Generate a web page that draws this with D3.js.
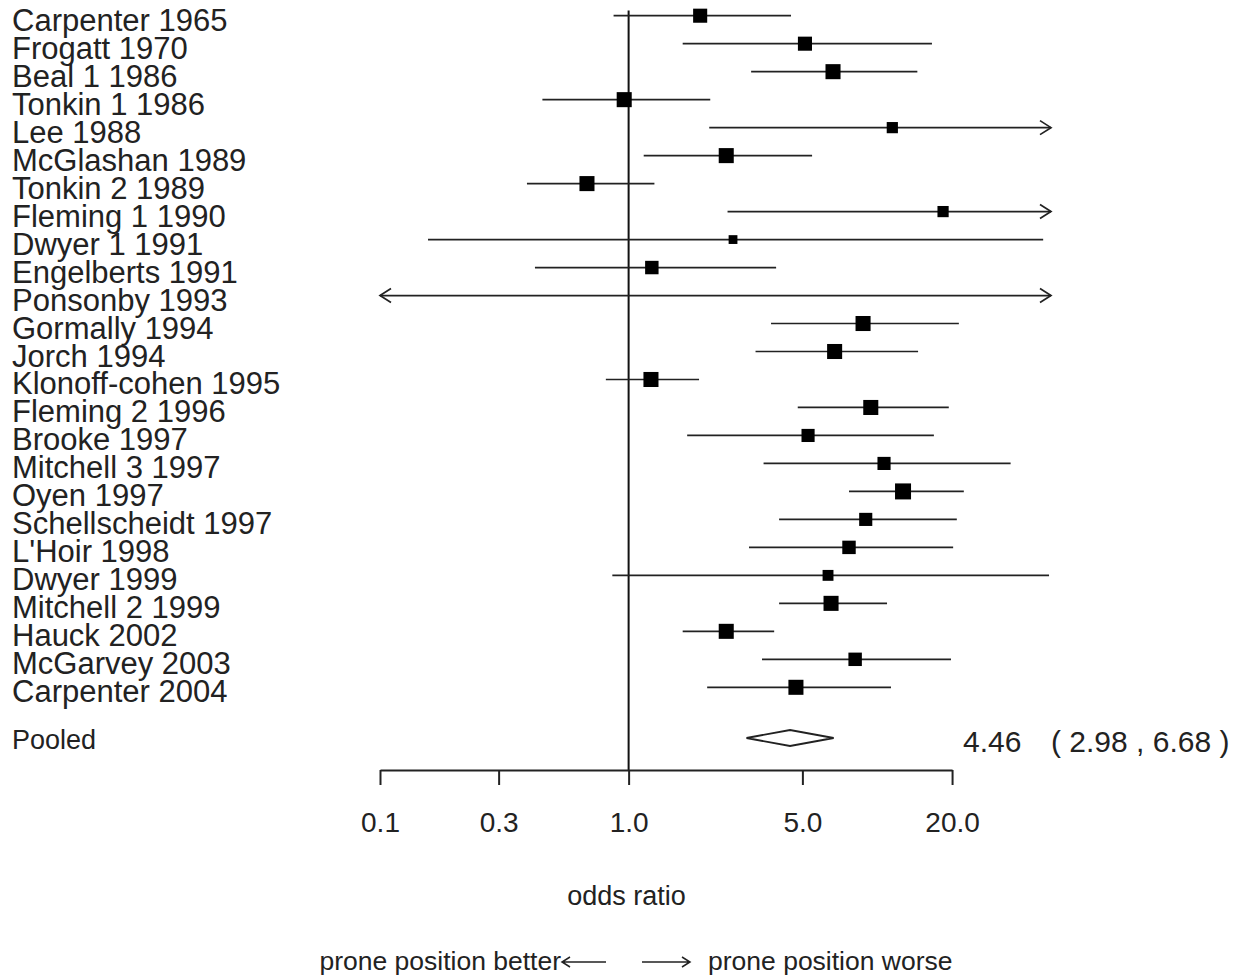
<!DOCTYPE html>
<html>
<head>
<meta charset="utf-8">
<script src="https://cdn.jsdelivr.net/npm/d3@7"></script>
<style>
  body { margin: 0; background: #fff; }
  text { font-family: "Liberation Sans", Arial, sans-serif; fill: #222; }
</style>
</head>
<body>
<div class="forest"></div>
<script>
// studies, top to bottom
const studies = ["Carpenter 1965", "Frogatt 1970", "Beal 1 1986", "Tonkin 1 1986", "Lee 1988",
  "McGlashan 1989", "Tonkin 2 1989", "Fleming 1 1990", "Dwyer 1 1991", "Engelberts 1991",
  "Ponsonby 1993", "Gormally 1994", "Jorch 1994", "Klonoff-cohen 1995", "Fleming 2 1996",
  "Brooke 1997", "Mitchell 3 1997", "Oyen 1997", "Schellscheidt 1997", "L'Hoir 1998",
  "Dwyer 1999", "Mitchell 2 1999", "Hauck 2002", "McGarvey 2003", "Carpenter 2004"]
const oddsRatio = [1.94, 5.12, 6.64, 0.96, 11.5, 2.47, 0.68, 18.4, 2.63, 1.24,
  null, 8.77, 6.74, 1.23, 9.42, 5.27, 10.65, 12.7, 8.99, 7.70,
  6.34, 6.52, 2.47, 8.15, 4.71]
const lower = [0.87, 1.65, 3.11, 0.45, 2.11, 1.15, 0.39, 2.50, 0.156, 0.42,
  0.07, 3.74, 3.24, 0.81, 4.79, 1.72, 3.49, 7.70, 4.03, 3.05,
  0.86, 4.03, 1.65, 3.44, 2.07]
const upper = [4.50, 16.6, 14.5, 2.13, 70, 5.47, 1.27, 70, 46.5, 3.92,
  70, 21.3, 14.6, 1.92, 19.4, 16.9, 34.4, 22.3, 20.9, 20.2,
  49.1, 10.95, 3.85, 19.8, 11.36]
// relative study weight (1 = largest box)
const weights = [0.88, 0.88, 0.94, 0.94, 0.7, 0.94, 0.94, 0.7, 0.55, 0.84,
  0, 0.94, 0.94, 0.94, 0.94, 0.82, 0.82, 1, 0.82, 0.84,
  0.68, 0.94, 0.94, 0.84, 0.94]
const pooled = {label: "Pooled", or: 4.46, lo: 2.98, hi: 6.68}
const tickValues = [0.1, 0.3, 1.0, 5.0, 20.0]

const width = 1236, height = 977

const svg = d3.select(".forest")
  .append("svg")
    .attr("width", width)
    .attr("height", height)

svg.append("rect").attr("width", width).attr("height", height).attr("fill", "#fff")

// log scale for odds ratio
const x = d3.scaleLog()
  .domain([0.1, 50])
  .range([380, 1051])
const xc = x.copy().clamp(true)

const y = d3.scalePoint()
  .domain(studies)
  .range([15.7, 687.3])

const pooledY = 738
const axisY = 770
const boxSize = d3.scaleLinear().domain([0, 1]).range([0, 16])

// reference line at OR = 1
svg.append("line")
  .attr("x1", x(1)).attr("x2", x(1))
  .attr("y1", 10.5).attr("y2", axisY)
  .attr("stroke", "#111")
  .attr("stroke-width", 2)

const rows = studies.map((s, i) => ({name: s, or: oddsRatio[i], lo: lower[i], hi: upper[i], w: weights[i]}))

// labels
svg.append("g")
  .selectAll("text")
  .data(rows)
  .join("text")
    .attr("x", 12)
    .attr("y", d => y(d.name) + 15)
    .style("font-size", "31px")
    .text(d => d.name)

// CI lines
const ci = svg.append("g")
  .attr("stroke", "#222")
  .attr("stroke-width", 1.7)
  .attr("fill", "none")

ci.selectAll("line")
  .data(rows)
  .join("line")
    .attr("x1", d => xc(d.lo))
    .attr("x2", d => xc(d.hi))
    .attr("y1", d => y(d.name))
    .attr("y2", d => y(d.name))

// arrows where interval runs off the plot
ci.selectAll("path.right")
  .data(rows.filter(d => d.hi > x.domain()[1]))
  .join("path")
    .attr("class", "right")
    .attr("d", d => {
      const tx = xc(d.hi), ty = y(d.name)
      return `M${tx - 11},${ty - 7}L${tx},${ty}L${tx - 11},${ty + 7}`
    })

ci.selectAll("path.left")
  .data(rows.filter(d => d.lo < x.domain()[0]))
  .join("path")
    .attr("class", "left")
    .attr("d", d => {
      const tx = xc(d.lo), ty = y(d.name)
      return `M${tx + 11},${ty - 7}L${tx},${ty}L${tx + 11},${ty + 7}`
    })

// boxes
svg.append("g")
  .selectAll("rect")
  .data(rows.filter(d => d.or != null && d.w > 0))
  .join("rect")
    .attr("x", d => x(d.or) - boxSize(d.w) / 2)
    .attr("y", d => y(d.name) - boxSize(d.w) / 2)
    .attr("width", d => boxSize(d.w))
    .attr("height", d => boxSize(d.w))
    .attr("fill", "#000")

// pooled estimate
svg.append("text")
  .attr("x", 12)
  .attr("y", pooledY + 11)
  .style("font-size", "27px")
  .text(pooled.label)

svg.append("path")
  .attr("d", `M${x(pooled.lo)},${pooledY}L${x(pooled.or)},${pooledY - 8}L${x(pooled.hi)},${pooledY}L${x(pooled.or)},${pooledY + 8}Z`)
  .attr("fill", "#fff")
  .attr("stroke", "#222")
  .attr("stroke-width", 1.8)

const f2 = d3.format(".2f")
const stat = svg.append("text")
  .attr("x", 963)
  .attr("y", pooledY + 14)
  .style("font-size", "30px")
stat.append("tspan").text(f2(pooled.or))
stat.append("tspan").attr("x", 1051).text(`( ${f2(pooled.lo)} , ${f2(pooled.hi)} )`)

// axis, drawn only over the tick range
const axisScale = x.copy().domain([0.1, 20]).range([x(0.1), x(20)])
svg.append("g")
  .attr("transform", `translate(0,${axisY})`)
  .call(d3.axisBottom(axisScale)
    .tickValues(tickValues)
    .tickFormat(d3.format(".1f"))
    .tickSize(15)
    .tickSizeOuter(0)
    .tickPadding(27))
  .call(g => g.select(".domain").attr("stroke", "#222").attr("stroke-width", 2))
  .call(g => g.selectAll(".tick line").attr("stroke", "#222").attr("stroke-width", 2))
  .call(g => g.selectAll(".tick text")
    .style("font-size", "28px")
    .style("font-family", "'Liberation Sans', Arial, sans-serif")
    .attr("fill", "#222"))

svg.append("text")
  .attr("x", x(1) - 2)
  .attr("y", 905)
  .attr("text-anchor", "middle")
  .style("font-size", "27px")
  .text("odds ratio")

// direction hints
const hintY = 962
svg.append("text")
  .attr("x", 561)
  .attr("y", hintY + 8)
  .attr("text-anchor", "end")
  .style("font-size", "26.5px")
  .text("prone position better")
svg.append("text")
  .attr("x", 708)
  .attr("y", hintY + 8)
  .style("font-size", "26.5px")
  .text("prone position worse")

const hints = svg.append("g").attr("stroke", "#222").attr("stroke-width", 1.5).attr("fill", "none")
hints.append("path").attr("d", `M562,${hintY}L606,${hintY}M570,${hintY - 5}L562,${hintY}L570,${hintY + 5}`)
hints.append("path").attr("d", `M642,${hintY}L690,${hintY}M682,${hintY - 5}L690,${hintY}L682,${hintY + 5}`)
</script>
</body>
</html>
